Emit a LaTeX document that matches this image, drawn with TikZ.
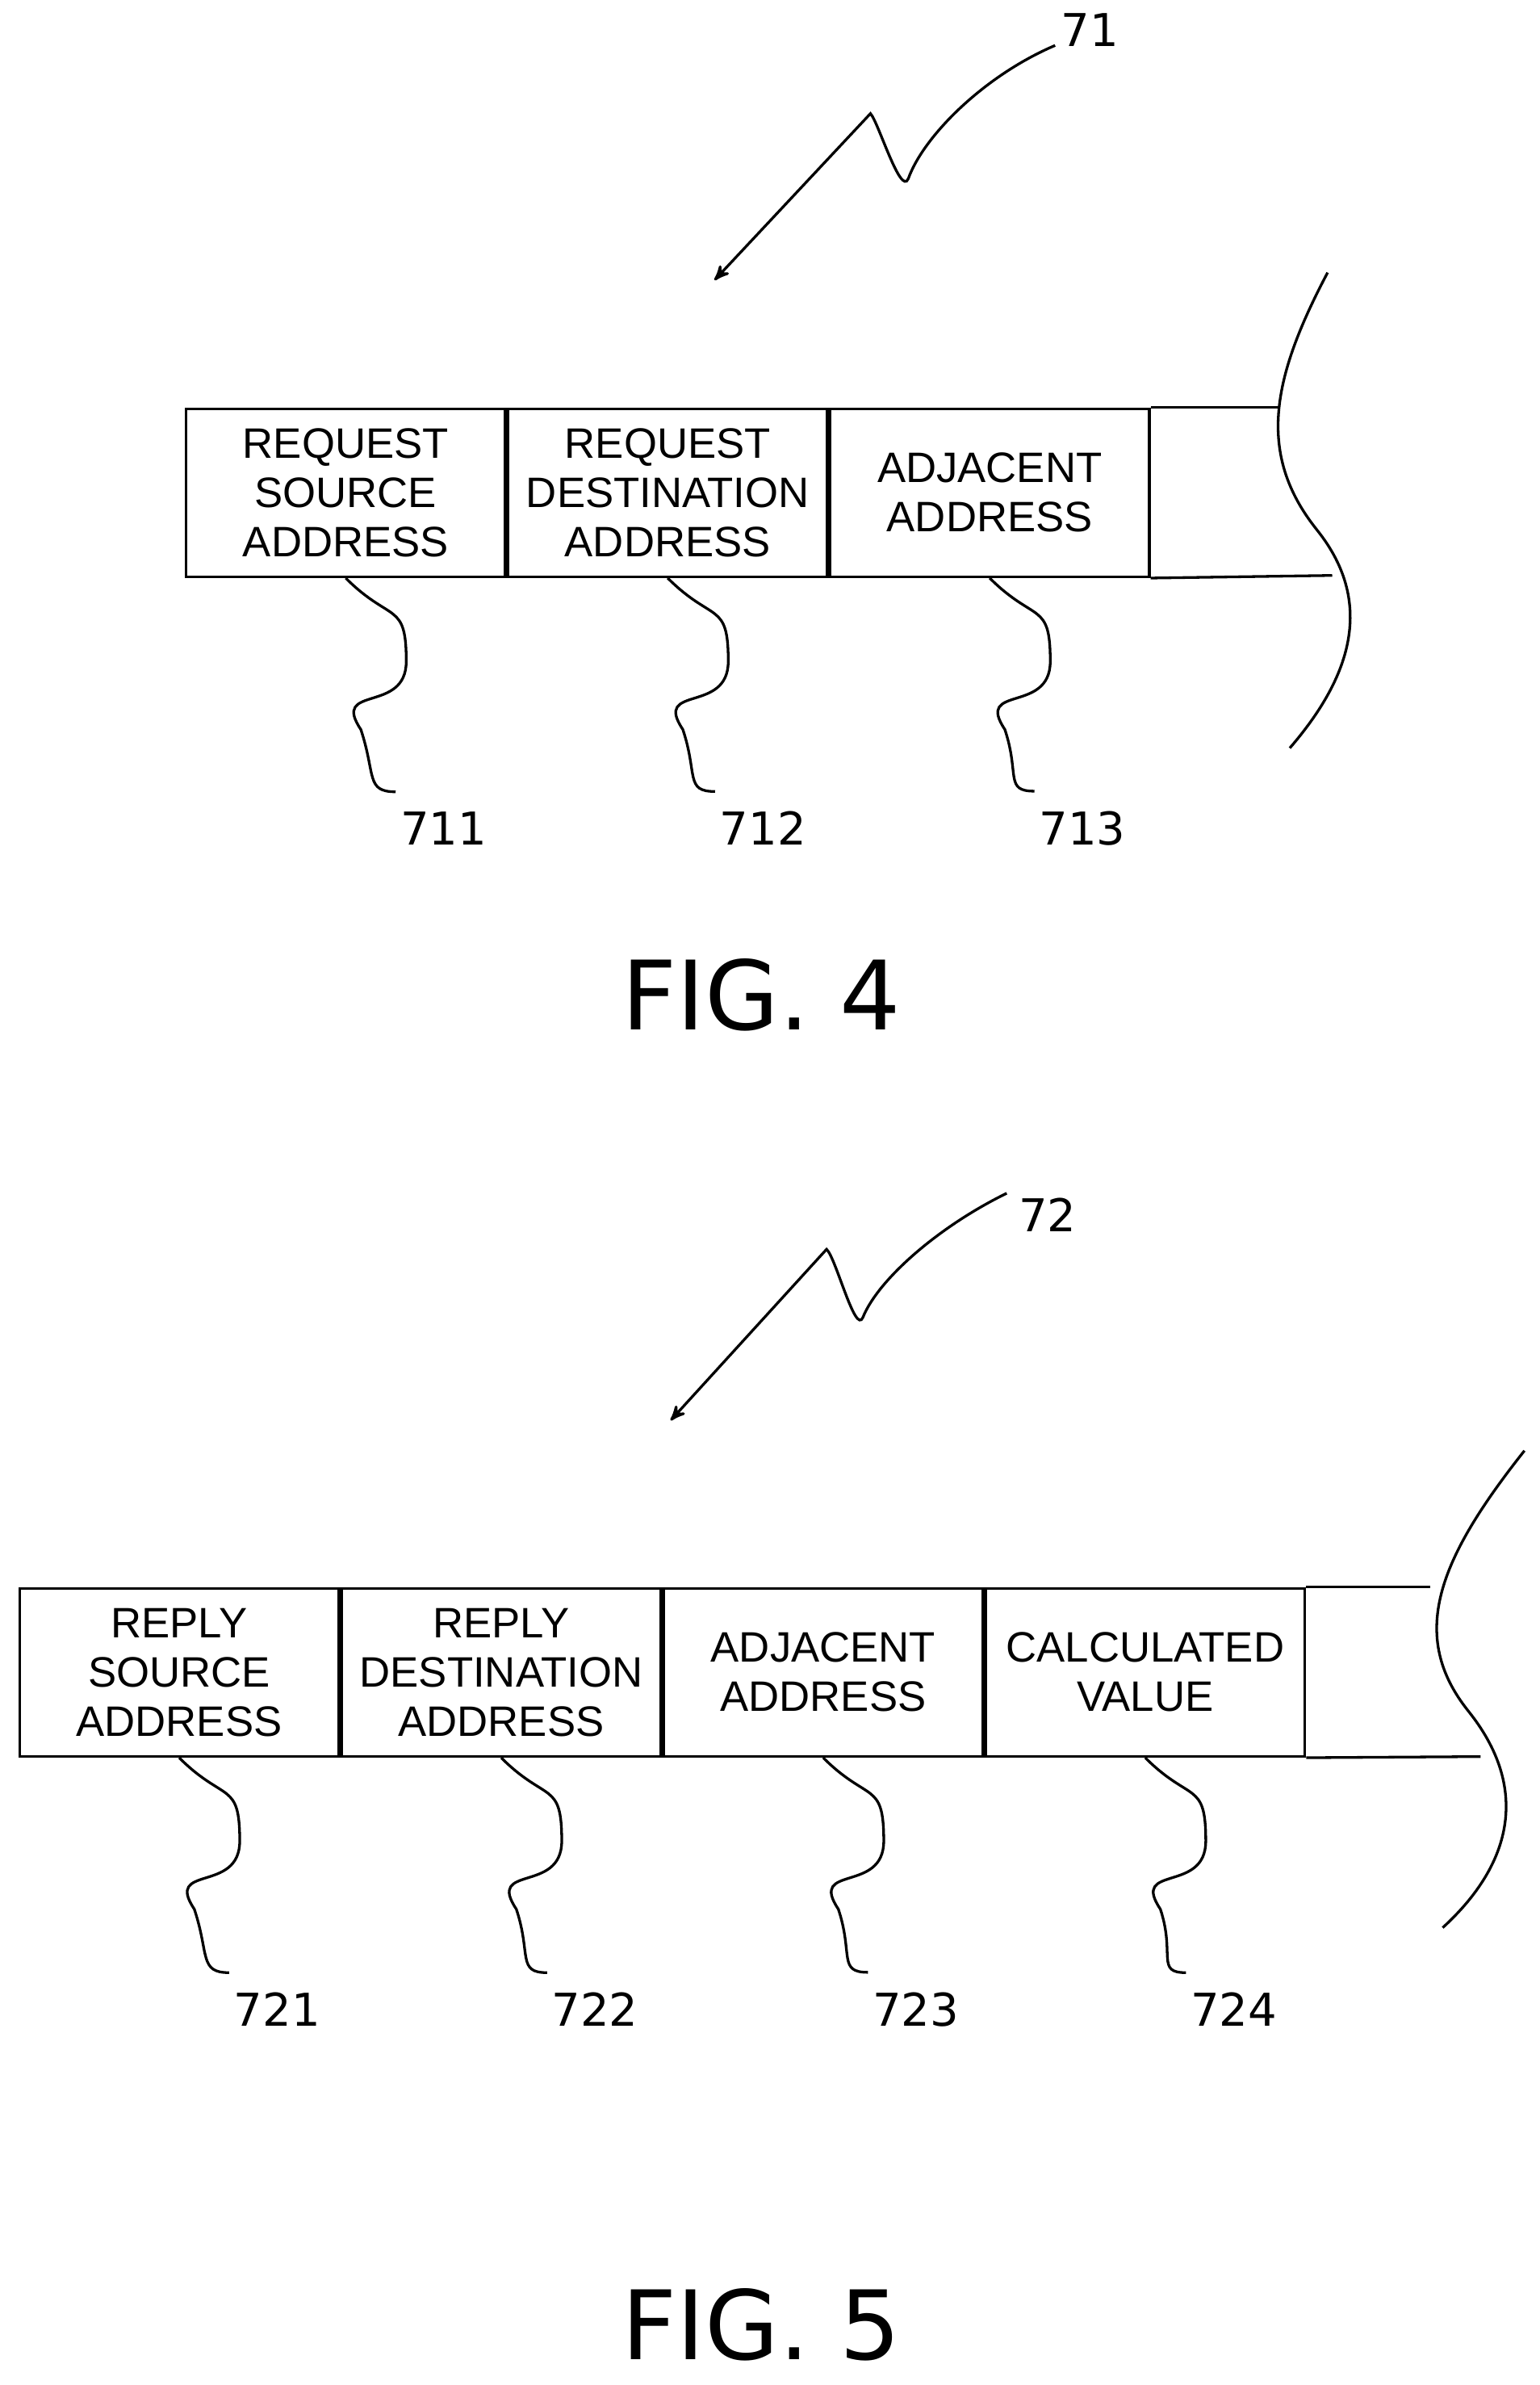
\documentclass[tikz,border=0pt]{standalone}
\usepackage{fontspec}
\setmainfont{Liberation Sans}
\newfontfamily\numfont{DejaVu Sans}
\usetikzlibrary{arrows, positioning}
\tikzstyle{field} = [draw=black, line width=1pt, minimum width=4.22cm, minimum height=2.22cm, inner sep=0pt, align=center, font=\fontsize{16}{18.5}\selectfont]
\tikzstyle{lead} = [line width=1pt]
\tikzstyle{refnum} = [font=\numfont\fontsize{17}{20}\selectfont]
\tikzstyle{figlabel} = [font=\numfont\fontsize{36}{40}\selectfont]
\tikzstyle{arrow} = [line width=1pt,->,>=stealth']
\begin{document}
\begin{tikzpicture}[x=0.02cm, y=-0.02cm]
\useasboundingbox (0,0) rectangle (1017,1575);
% FIG. 4
\node (f711) [field, anchor=north west] at (122,269) {REQUEST\\SOURCE\\ADDRESS};
\node (f712) [field, right=0pt of f711] {REQUEST\\DESTINATION\\ADDRESS};
\node (f713) [field, right=0pt of f712] {ADJACENT\\ADDRESS};
\coordinate (t4) at (845,269);
\coordinate (b4) at (880,380);
\draw [lead] (f713.north east) -- (t4);
\draw [lead] (f713.south east) -- (b4);
\coordinate (c4a) at (877,180);
\coordinate (c4b) at (852,494);
\draw [lead] (c4a) .. controls (840,250) and (830,300) .. (870,350) .. controls (910,400) and (890,450) .. (c4b);
\node (n711) [refnum] at (293,547) {711};
\node (n712) [refnum] at (504,547) {712};
\node (n713) [refnum] at (715,547) {713};
\foreach \f/\n in {f711/n711, f712/n712, f713/n713}
  \draw [lead] (\f.south) .. controls ++(30,30) and ++(0,-40) .. ++(40,55) .. controls ++(0,35) and ++(-20,-30) .. ++(-30,45) .. controls ++(10,30) and ++(-20,0) .. ([xshift=-18pt,yshift=4pt]\n.north);
\node (a71) [refnum] at (720,20) {71};
\coordinate (s71) at (697,30);
\coordinate (e71) at (472,185);
\draw [arrow] (s71) .. controls (650,50) and (610,90) .. (600,118) .. controls (595,130) and (580,80) .. (575,75) -- (e71);
\node (fig4) [figlabel] at (503,657) {FIG. 4};
% FIG. 5
\node (f721) [field, anchor=north west] at (12,1048) {REPLY\\SOURCE\\ADDRESS};
\node (f722) [field, right=0pt of f721] {REPLY\\DESTINATION\\ADDRESS};
\node (f723) [field, right=0pt of f722] {ADJACENT\\ADDRESS};
\node (f724) [field, right=0pt of f723] {CALCULATED\\VALUE};
\coordinate (t5) at (945,1048);
\coordinate (b5) at (978,1160);
\draw [lead] (f724.north east) -- (t5);
\draw [lead] (f724.south east) -- (b5);
\coordinate (c5a) at (1007,958);
\coordinate (c5b) at (953,1273);
\draw [lead] (c5a) .. controls (950,1030) and (930,1080) .. (970,1130) .. controls (1010,1180) and (1000,1230) .. (c5b);
\node (n721) [refnum] at (183,1327) {721};
\node (n722) [refnum] at (393,1327) {722};
\node (n723) [refnum] at (605,1327) {723};
\node (n724) [refnum] at (815,1327) {724};
\foreach \f/\n in {f721/n721, f722/n722, f723/n723, f724/n724}
  \draw [lead] (\f.south) .. controls ++(30,30) and ++(0,-40) .. ++(40,55) .. controls ++(0,35) and ++(-20,-30) .. ++(-30,45) .. controls ++(10,30) and ++(-20,0) .. ([xshift=-18pt,yshift=4pt]\n.north);
\node (a72) [refnum] at (692,802) {72};
\coordinate (s72) at (665,788);
\coordinate (e72) at (443,938);
\draw [arrow] (s72) .. controls (620,810) and (580,845) .. (570,870) .. controls (565,882) and (552,830) .. (546,825) -- (e72);
\node (fig5) [figlabel] at (503,1535) {FIG. 5};
\end{tikzpicture}
\end{document}
